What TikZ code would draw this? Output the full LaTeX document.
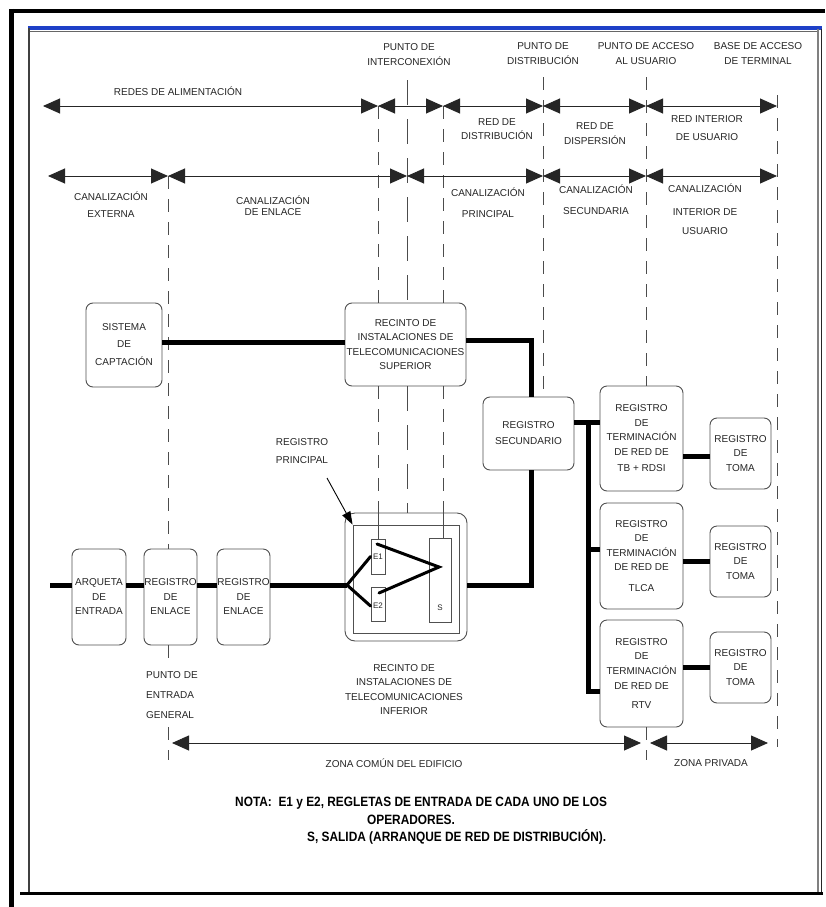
\documentclass[tikz,border=0pt]{standalone}
\usepackage{fontspec}
\setmainfont{Liberation Sans}
\newfontfamily\notefont[FakeStretch=0.88]{Liberation Sans}
\usetikzlibrary{arrows.meta,calc}
\definecolor{txt}{HTML}{262626}
\definecolor{edge}{HTML}{505050}
\definecolor{frameblue}{HTML}{1E40C8}
\begin{document}
\begin{tikzpicture}[x=1pt,y=-1pt,
  lbl/.style={font=\fontsize{10}{14.5}\selectfont, text=txt, align=center, inner sep=0pt},
  box/.style={draw=edge, fill=white, line width=0.9pt, rounded corners=7pt, inner sep=0pt, align=center, text=txt, font=\fontsize{10}{14.5}\selectfont},
  slot/.style={draw=edge, fill=white, line width=0.9pt, inner sep=0pt, text=txt, font=\fontsize{8}{9}\selectfont},
  wire/.style={line width=5pt},
  forkline/.style={line width=3pt, line cap=round},
  dim/.style={line width=0.9pt, draw=black!85, {Triangle[length=17pt,width=15pt]}-{Triangle[length=17pt,width=15pt]}},
  dline/.style={draw=black!70, line width=0.9pt, dash pattern=on 13pt off 10pt},
  lline/.style={draw=black!70, line width=0.9pt, dash pattern=on 25pt off 14pt},
  note/.style={font=\notefont\bfseries\fontsize{13.5}{15}\selectfont, inner sep=0pt},
]
\useasboundingbox (0,0) rectangle (825,907);
\fill[white] (0,0) rectangle (825,907);

% ---------- frame ----------
\draw[line width=4.5pt] (10,11) -- (825,11);
\draw[line width=5pt] (11.5,9) -- (11.5,907);
\draw[frameblue, line width=3.5pt] (28,28) -- (822,28);
\draw[black!60, line width=0.8pt] (30,31) -- (818,31);
\draw[black!75, line width=2pt] (29,28) -- (29,893);
\draw[black!50, line width=1.5pt] (818,29) -- (818,893);
\draw[black!85, line width=1pt] (821.5,29) -- (821.5,893);
\draw[line width=3pt] (20,893) -- (823,893);

% ---------- boxes ----------
\node[box, minimum width=76pt, minimum height=84pt] (sis) at (124,345) {SISTEMA\\[2pt]DE\\[4pt]CAPTACIÓN};
\node[box, minimum width=121pt, minimum height=83pt] (ritS) at (405.5,344.5) {RECINTO DE\\INSTALACIONES DE\\TELECOMUNICACIONES\\SUPERIOR};
\node[box, minimum width=91pt, minimum height=73pt] (regsec) at (528.5,433.5) {REGISTRO\\[1.5pt]SECUNDARIO};
\node[box, minimum width=83pt, minimum height=105pt] (rtr1) at (641.5,438.5) {REGISTRO\\DE\\TERMINACIÓN\\DE RED DE\\[2pt]TB + RDSI};
\node[box, minimum width=83pt, minimum height=106pt] (rtr2) at (641.5,556) {REGISTRO\\DE\\TERMINACIÓN\\DE RED DE\\[6pt]TLCA};
\node[box, minimum width=83pt, minimum height=107pt] (rtr3) at (641.5,673.5) {REGISTRO\\DE\\TERMINACIÓN\\DE RED DE\\[5pt]RTV};
\node[box, minimum width=61pt, minimum height=71pt] (toma1) at (740.5,453.5) {REGISTRO\\DE\\TOMA};
\node[box, minimum width=61pt, minimum height=71pt] (toma2) at (740.5,561.5) {REGISTRO\\DE\\TOMA};
\node[box, minimum width=61pt, minimum height=71pt] (toma3) at (740.5,667.5) {REGISTRO\\DE\\TOMA};
\node[box, minimum width=54pt, minimum height=96pt] (arq) at (99,597) {ARQUETA\\DE\\ENTRADA};
\node[box, minimum width=53pt, minimum height=96pt] (re1) at (170.5,597) {REGISTRO\\DE\\ENLACE};
\node[box, minimum width=53pt, minimum height=96pt] (re2) at (243.5,597) {REGISTRO\\DE\\ENLACE};
\node[box, rounded corners=10pt, minimum width=122pt, minimum height=128pt] (ritI) at (406,577) {};
\node[draw=edge, line width=0.9pt, inner sep=0pt, minimum width=106pt, minimum height=108pt] (ritIin) at (406,579) {};
\node[slot, minimum width=14pt, minimum height=35pt] (E1) at (378,556.5) {E1};
\node[slot, minimum width=14pt, minimum height=34pt] (E2) at (378,604) {};
\node[font=\fontsize{8}{9}\selectfont, text=txt, inner sep=0pt] (E2l) at (378,606) {E2};
\node[slot, minimum width=22pt, minimum height=84pt] (S) at (440,580) {};
\node[font=\fontsize{8}{9}\selectfont, text=txt, inner sep=0pt] (Sl) at (440,608) {S};

% ---------- guide coordinates ----------
\coordinate (g168a) at (168,176);
\coordinate (g168b) at (168,668);
\coordinate (g168c) at (168,727);
\coordinate (g168d) at (168,760);
\coordinate (g378a) at (378,106);
\coordinate (g407a) at (407,80);
\coordinate (g443a) at (443,106);
\coordinate (g543a) at (543,77);
\coordinate (g646a) at (646,77);
\coordinate (g646b) at (646,760);
\coordinate (g777a) at (777,95);
\coordinate (g777b) at (777,747);

% ---------- vertical guides ----------
\draw[dline] (g168a) -- (g168a |- re1.north);
\draw[dline] (g168a |- re1.south) -- (g168b);
\draw[dline] (g168c) -- (g168d);
\draw[dline] (g378a) -- (g378a |- ritS.north);
\draw[dline] (g378a |- ritS.south) -- (g378a |- ritI.north);
\draw[draw=black!70, line width=0.9pt] (g378a |- ritI.north) -- (E1.north);
\draw[lline] (g407a) -- (g407a |- ritS.north);
\draw[lline] (g407a |- ritS.south) -- (g407a |- ritI.north);
\draw[dline] (g443a) -- (g443a |- ritS.north);
\draw[dline] (g443a |- ritS.south) -- (g443a |- ritI.north);
\draw[draw=black!70, line width=0.9pt] (g443a |- ritI.north) -- (g443a |- S.north);
\draw[dline] (g543a) -- (g543a |- regsec.north);
\draw[dline] (g646a) -- (g646a |- rtr1.north);
\draw[dline] (g646a |- rtr3.south) -- (g646b);
\draw[dline] (g777a) -- (g777b);

% ---------- dimension arrows ----------
\coordinate (r1a) at (43,106);
\coordinate (r1b) at (378,106);
\coordinate (r1c) at (443,106);
\coordinate (r1d) at (543,106);
\coordinate (r1e) at (646,106);
\coordinate (r1f) at (777,106);
\draw[dim] (r1a) -- (r1b);
\draw[dim] (r1b) -- (r1c);
\draw[dim] (r1c) -- (r1d);
\draw[dim] (r1d) -- (r1e);
\draw[dim] (r1e) -- (r1f);
\coordinate (r2a) at (48,176);
\coordinate (r2b) at (168,176);
\coordinate (r2c) at (407,176);
\coordinate (r2d) at (543,176);
\coordinate (r2e) at (646,176);
\coordinate (r2f) at (777,176);
\draw[dim] (r2a) -- (r2b);
\draw[dim] (r2b) -- (r2c);
\draw[dim] (r2c) -- (r2d);
\draw[dim] (r2d) -- (r2e);
\draw[dim] (r2e) -- (r2f);
\coordinate (z1a) at (172,743);
\coordinate (z1b) at (641,743);
\coordinate (z2a) at (650,743);
\coordinate (z2b) at (768,743);
\draw[dim] (z1a) -- (z1b);
\draw[dim] (z2a) -- (z2b);

% ---------- labels ----------
\node[lbl] (pint) at (409,54.5) {PUNTO DE\\INTERCONEXIÓN};
\node[lbl] (pdist) at (543,53.5) {PUNTO DE\\DISTRIBUCIÓN};
\node[lbl] (pacc) at (646,53.5) {PUNTO DE ACCESO\\AL USUARIO};
\node[lbl] (bat) at (758,53.5) {BASE DE ACCESO\\DE TERMINAL};
\node[lbl] (redes) at (178,91) {REDES DE ALIMENTACIÓN};
\node[lbl] (rdist) at (497,129) {RED DE\\DISTRIBUCIÓN};
\node[lbl] (rdisp) at (595,133.5) {RED DE\\DISPERSIÓN};
\node[lbl] (rint) at (707,128) {RED INTERIOR\\[4pt]DE USUARIO};
\node[lbl] (cext) at (111,204.5) {CANALIZACIÓN\\[2.5pt]EXTERNA};
\node[lbl] (cenl) at (273,205.5) {CANALIZACIÓN\\[-3pt]DE ENLACE};
\node[lbl] (cpri) at (488,202.5) {CANALIZACIÓN\\[6pt]PRINCIPAL};
\node[lbl] (csec) at (596,199.5) {CANALIZACIÓN\\[6pt]SECUNDARIA};
\node[lbl] (cint) at (705,209) {CANALIZACIÓN\\[9pt]INTERIOR DE\\[4pt]USUARIO};
\node[lbl] (rp) at (302,451) {REGISTRO\\[3.5pt]PRINCIPAL};
\node[lbl, align=left, anchor=west] (pent) at (146,695) {PUNTO DE\\[5.5pt]ENTRADA\\[5.5pt]GENERAL};
\node[lbl] (ritIl) at (404,689.5) {RECINTO DE\\INSTALACIONES DE\\TELECOMUNICACIONES\\INFERIOR};
\node[lbl] (zc) at (394,763) {ZONA COMÚN DEL EDIFICIO};
\node[lbl] (zp) at (711,763) {ZONA PRIVADA};

% ---------- registro principal pointer ----------
\coordinate (rpa) at (327,478);
\draw[line width=0.9pt, -{Triangle[length=13pt,width=9pt]}] (rpa) -- (ritIin.north west);

% ---------- thick wires ----------
\draw[wire] ([yshift=3pt]sis.east) -- ([yshift=3pt]sis.east -| ritS.west);
\coordinate (bendS) at (531,340);
\draw[wire] (ritS.east |- bendS) -- (bendS) -- (bendS |- regsec.north);
\coordinate (bendI) at (531,585);
\draw[wire] (bendI |- regsec.south) -- (bendI) -- (bendI -| ritI.east);
\coordinate (busT) at (588,422);
\coordinate (busB) at (588,691);
\draw[wire] (busT -| regsec.east) -- (busT -| rtr1.west);
\draw[wire] (busT) -- (busB) -- (busB -| rtr3.west);
\coordinate (busM) at (588,549);
\draw[wire] (busM) -- (busM -| rtr2.west);
\coordinate (t1) at (700,456);
\draw[wire] (t1 -| rtr1.east) -- (t1 -| toma1.west);
\draw[wire] (rtr2.east |- toma2.west) -- (toma2.west);
\draw[wire] (rtr3.east |- toma3.west) -- (toma3.west);
\coordinate (in) at (50,585);
\draw[wire] (in) -- (in -| arq.west);
\draw[wire] (in -| arq.east) -- (in -| re1.west);
\draw[wire] (in -| re1.east) -- (in -| re2.west);
\coordinate (fk) at (347,585);
\draw[wire] (in -| re2.east) -- (fk);

% ---------- fork inside RIT inferior ----------
\draw[forkline] (fk) -- (E1.west);
\draw[forkline] (fk) -- ([yshift=-2pt]E2.west);
\coordinate (e1d) at (377,544);
\coordinate (sp) at (439,567);
\coordinate (e2d) at (379,593);
\draw[forkline, line join=miter] (e1d) -- (sp) -- (e2d);

% ---------- note ----------
\node[note, anchor=west] (n1) at (235,803) {NOTA:\ \ E1 y E2, REGLETAS DE ENTRADA DE CADA UNO DE LOS};
\node[note] (n2) at (411,820) {OPERADORES.};
\node[note, anchor=west] (n3) at (307,837) {S, SALIDA (ARRANQUE DE RED DE DISTRIBUCIÓN).};
\end{tikzpicture}
\end{document}
